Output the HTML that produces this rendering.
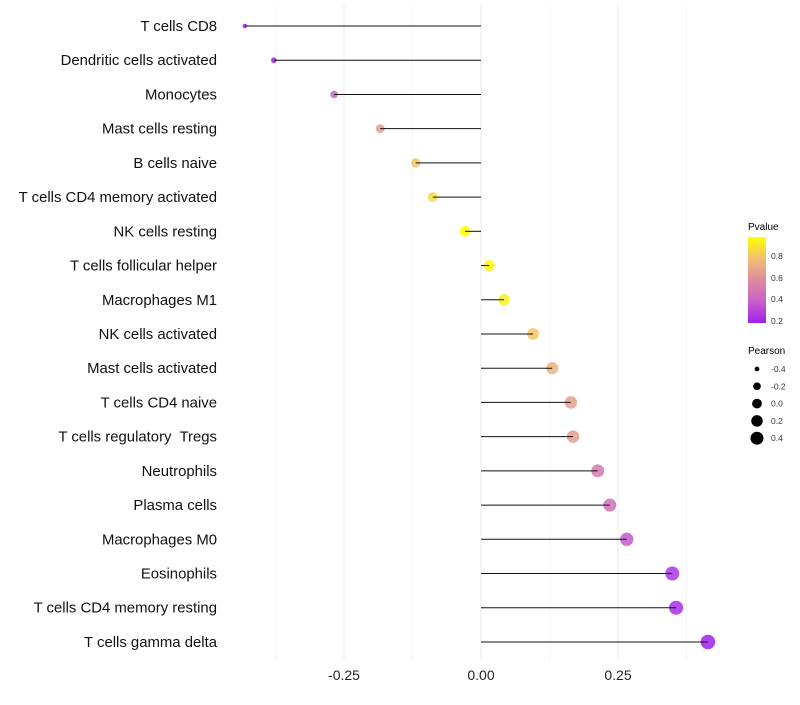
<!DOCTYPE html>
<html><head><meta charset="utf-8"><style>
body{margin:0;background:#fff;font-family:"Liberation Sans",sans-serif;}
text{white-space:pre;}
</style></head><body>
<svg id="chart" width="800" height="700" xmlns="http://www.w3.org/2000/svg">
<defs>
<linearGradient id="pg" x1="0" y1="1" x2="0" y2="0">
<stop offset="0" stop-color="#a020f0"/><stop offset="0.25" stop-color="#c860c8"/>
<stop offset="0.5" stop-color="#dc8ca0"/><stop offset="0.75" stop-color="#f2bf72"/>
<stop offset="1" stop-color="#ffff00"/></linearGradient>
</defs>
<g id="grid"></g><g id="marks"></g><g id="labels"></g>
<g>
<text x="748" y="230" font-size="10" fill="#000">Pvalue</text>
<rect x="748" y="237" width="18" height="86" fill="url(#pg)"/>
<text x="771" y="259" font-size="8.5" fill="#333">0.8</text>
<text x="771" y="281" font-size="8.5" fill="#333">0.6</text>
<text x="771" y="302" font-size="8.5" fill="#333">0.4</text>
<text x="771" y="324" font-size="8.5" fill="#333">0.2</text>
</g>
<g id="sizeleg">
<text x="748" y="354" font-size="10" fill="#000">Pearson</text>
</g>
</svg>
<script>
const categories=["T cells CD8","Dendritic cells activated","Monocytes","Mast cells resting","B cells naive","T cells CD4 memory activated","NK cells resting","T cells follicular helper","Macrophages M1","NK cells activated","Mast cells activated","T cells CD4 naive","T cells regulatory  Tregs","Neutrophils","Plasma cells","Macrophages M0","Eosinophils","T cells CD4 memory resting","T cells gamma delta"];
const pearson=[-0.431,-0.378,-0.268,-0.184,-0.119,-0.088,-0.029,0.015,0.042,0.095,0.130,0.164,0.168,0.213,0.235,0.266,0.349,0.356,0.414];
const pvalue=[0.12,0.16,0.4,0.65,0.8,0.86,0.98,0.97,0.93,0.8,0.73,0.66,0.65,0.5,0.45,0.36,0.25,0.22,0.16];
const xTicks=[-0.25,0,0.25];
const xTickLabels=["-0.25","0.00","0.25"];
const xMinor=[-0.375,-0.125,0.125,0.375];
const legendSizes=[-0.4,-0.2,0,0.2,0.4];
const legendSizeLabels=["-0.4","-0.2","0.0","0.2","0.4"];

const NS="http://www.w3.org/2000/svg";
const x=v=>481+v*548;
const y=i=>26+i*34.22;
const r=v=>Math.sqrt(5.3+Math.max(0,v+0.43)/0.844*47.7);
const stops=[[0.18,[160,32,240]],[0.38,[200,96,200]],[0.58,[220,140,160]],[0.78,[242,191,114]],[0.98,[255,255,0]]];
function col(p){
  if(p<=stops[0][0])return 'rgb('+stops[0][1]+')';
  for(let k=1;k<stops.length;k++){if(p<=stops[k][0]){const a=stops[k-1],b=stops[k],t=(p-a[0])/(b[0]-a[0]);
    return 'rgb('+a[1].map((c,j)=>Math.round(c+(b[1][j]-c)*t)).join(',')+')';}}
  return 'rgb(255,255,0)';
}
function el(t,a,p){const e=document.createElementNS(NS,t);for(const k in a)e.setAttribute(k,a[k]);p.appendChild(e);return e;}
const grid=document.getElementById('grid'),marks=document.getElementById('marks'),labels=document.getElementById('labels');
xMinor.forEach(v=>{const l=el('line',{x1:x(v),x2:x(v),y1:5,y2:660,stroke:'#f0f0f0','stroke-width':0.6},grid);

});
xTicks.forEach((v,i)=>{const l=el('line',{x1:x(v),x2:x(v),y1:5,y2:660,stroke:'#ebebeb','stroke-width':1},grid);


const t=el('text',{x:x(v),y:680,'font-size':14,'text-anchor':'middle',fill:'#222'},labels);t.textContent=xTickLabels[i];

});
categories.forEach((c,i)=>{
  const t=el('text',{x:217,y:y(i)+5,'font-size':14.9,'text-anchor':'end',fill:'#111'},labels);t.textContent=c;
  
  
  const pt=el('circle',{cx:x(pearson[i]),cy:y(i),r:r(pearson[i]),fill:col(pvalue[i]),'fill-opacity':0.85},marks);
  
  
  const s=el('line',{x1:x(0),x2:x(pearson[i]),y1:y(i),y2:y(i),stroke:'#111','stroke-width':1},marks);
  
  
});
const sl=document.getElementById('sizeleg');
legendSizes.forEach((v,i)=>{const cy=369+i*17.3;
  const c=el('circle',{cx:757,cy:cy,r:r(v)*0.9,fill:'#000'},sl);
  
  
  const t=el('text',{x:771,y:cy+3,'font-size':8.5,fill:'#333'},sl);t.textContent=legendSizeLabels[i];
  
  });
</script>
</body></html>
